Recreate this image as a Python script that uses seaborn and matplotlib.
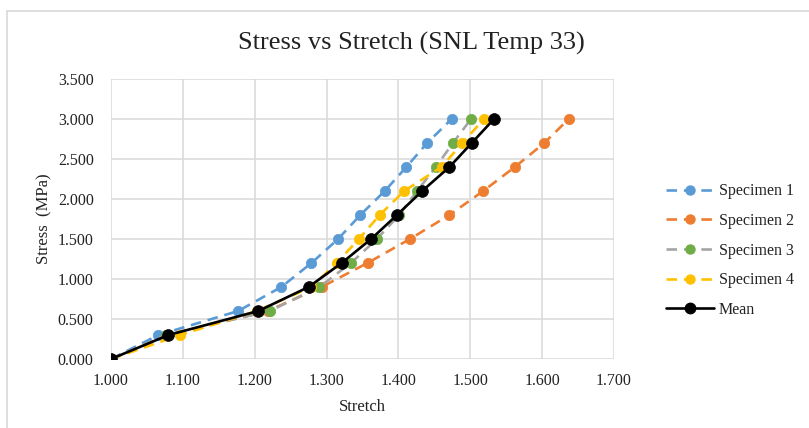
import matplotlib
matplotlib.use("Agg")
import matplotlib.pyplot as plt
import seaborn as sns
import pandas as pd
from matplotlib.lines import Line2D

stress = [0.0, 0.3, 0.6, 0.9, 1.2, 1.5, 1.8, 2.1, 2.4, 2.7, 3.0]
spec1 = [1.000, 1.066, 1.177, 1.237, 1.279, 1.316, 1.347, 1.381, 1.411, 1.440, 1.474]
spec2 = [1.000, 1.080, 1.218, 1.293, 1.357, 1.416, 1.471, 1.518, 1.562, 1.603, 1.637]
spec3 = [1.000, 1.076, 1.221, 1.290, 1.334, 1.370, 1.401, 1.426, 1.452, 1.476, 1.501]
spec4 = [1.000, 1.096, 1.203, 1.279, 1.314, 1.345, 1.374, 1.408, 1.460, 1.489, 1.519]
mean = [1.000, 1.080, 1.205, 1.275, 1.321, 1.362, 1.398, 1.433, 1.471, 1.502, 1.533]

names = ["Specimen 1", "Specimen 2", "Specimen 3", "Specimen 4", "Mean"]
xticks = [1.0, 1.1, 1.2, 1.3, 1.4, 1.5, 1.6, 1.7]
yticks = [0.0, 0.5, 1.0, 1.5, 2.0, 2.5, 3.0, 3.5]

sns.set_style("white")
plt.rcParams["font.family"] = ["Liberation Serif", "DejaVu Serif"]

fig = plt.figure(figsize=(8.09, 4.28), dpi=100)
ax = fig.add_axes([111 / 809, 1 - 359 / 428, (614 - 111) / 809, (359 - 79) / 428])

styles = [
    dict(color="#5B9BD5", mfc="#5B9BD5", mec="#5B9BD5", ls=(0, (4, 2.6)), lw=1.9, ms=7.5),
    dict(color="#ED7D31", mfc="#ED7D31", mec="#ED7D31", ls=(0, (4, 2.6)), lw=1.9, ms=7.5),
    dict(color="#A5A5A5", mfc="#70AD47", mec="#70AD47", ls=(0, (4, 2.6)), lw=1.9, ms=7.5),
    dict(color="#FFC000", mfc="#FFC000", mec="#FFC000", ls=(0, (4, 2.6)), lw=1.9, ms=7.5),
    dict(color="black", mfc="black", mec="black", ls="-", lw=1.9, ms=8.5),
]
series = [spec1, spec2, spec3, spec4, mean]

handles = []
for name, xs, st in zip(names, series, styles):
    df = pd.DataFrame({"Stretch": xs, "Stress": stress})
    sns.lineplot(data=df, x="Stretch", y="Stress", ax=ax, sort=False,
                 color=st["color"], linestyle=st["ls"], linewidth=st["lw"],
                 marker="o", markersize=st["ms"], markerfacecolor=st["mfc"],
                 markeredgecolor=st["mec"], markeredgewidth=0.5, zorder=3)
    handles.append(Line2D([0], [0], color=st["color"], linestyle=st["ls"], linewidth=st["lw"],
                          marker="o", markersize=st["ms"] - 1, markerfacecolor=st["mfc"],
                          markeredgecolor=st["mec"], label=name))

ax.set_xlim(1.0, 1.7)
ax.set_ylim(0.0, 3.5)
ax.set_xticks(xticks)
ax.set_yticks(yticks)
ax.set_xticklabels([f"{v:.3f}" for v in xticks])
ax.set_yticklabels([f"{v:.3f}" for v in yticks])
ax.grid(True, color="#d9d9d9", linewidth=1.1)
ax.set_axisbelow(True)
for s in ax.spines.values():
    s.set_visible(False)
ax.tick_params(axis="y", length=0, labelsize=11.5, colors="#222222", pad=12.5)
ax.tick_params(axis="x", length=0, labelsize=11.5, colors="#222222", pad=10)
ax.set_xlabel("Stretch", fontsize=12, color="#222222", labelpad=7)
ax.set_ylabel("Stress  (MPa)", fontsize=12, color="#222222", labelpad=4)

fig.text(411 / 809, 1 - 43 / 428, "Stress vs Stretch (SNL Temp 33)", ha="center", va="center",
         fontsize=19, color="#222222")

ax.legend(handles=handles, loc="upper left", bbox_to_anchor=(652 / 809, 1 - 169 / 428),
          bbox_transform=fig.transFigure, frameon=False, fontsize=11.5, handlelength=3.0,
          labelspacing=0.85, numpoints=1, handletextpad=0.3, labelcolor="#222222")

fig.add_artist(Line2D([7 / 809, 1.0], [1 - 11 / 428, 1 - 11 / 428], color="#d9d9d9", lw=1.2,
                      transform=fig.transFigure))
fig.add_artist(Line2D([7 / 809, 7 / 809], [0.0, 1 - 11 / 428], color="#d9d9d9", lw=1.2,
                      transform=fig.transFigure))

fig.savefig("out.png", dpi=100)
